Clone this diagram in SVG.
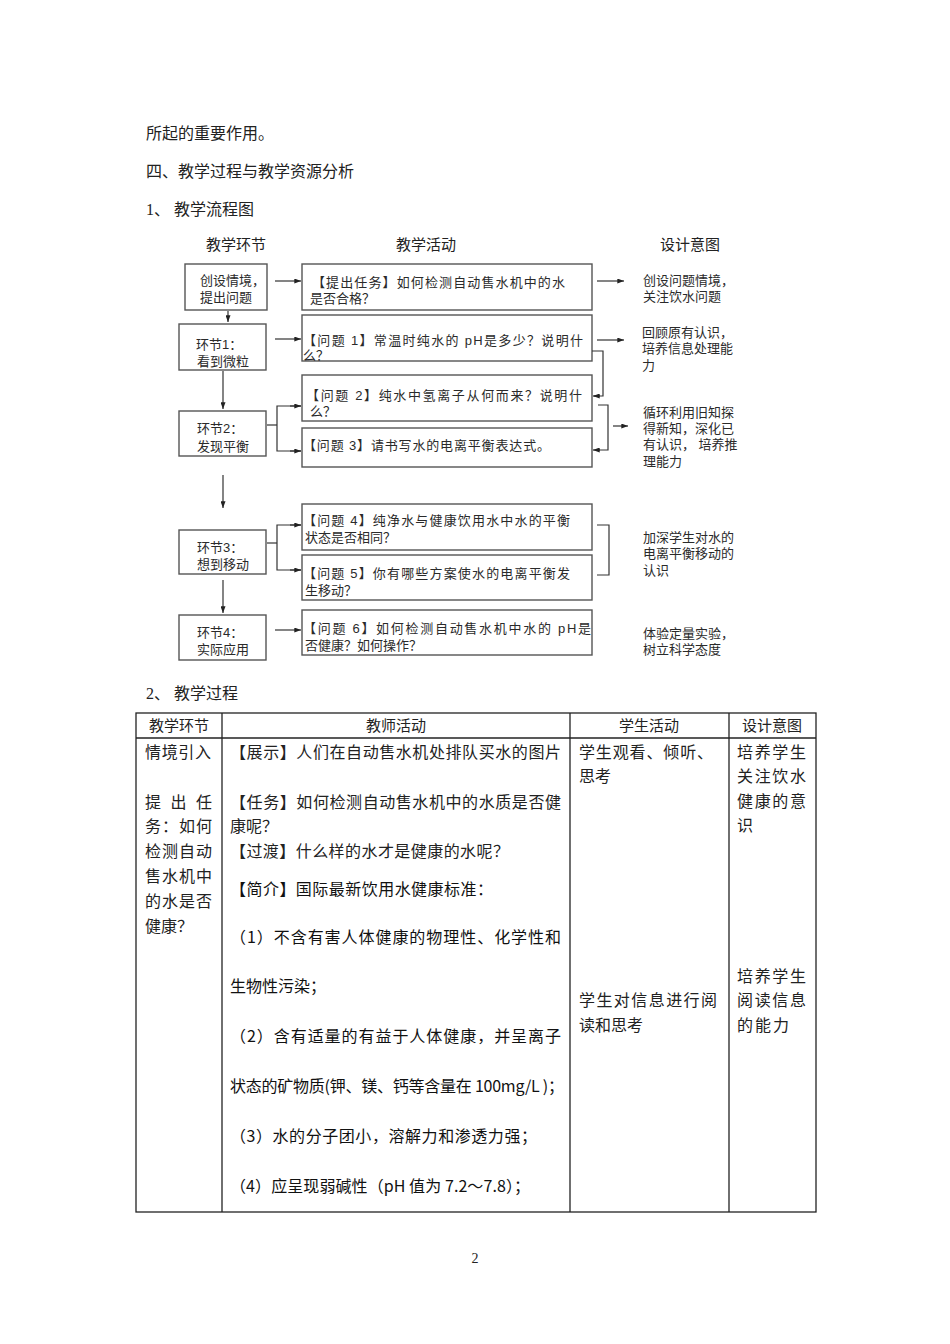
<svg xmlns="http://www.w3.org/2000/svg" width="950" height="1344" viewBox="0 0 950 1344">
<style>
text{font-family:"Liberation Serif","Noto Sans CJK SC",serif;fill:#222}
.b{font-size:16px}
.h{font-size:15px}
.f{font-family:"Liberation Sans","Noto Sans CJK SC",sans-serif;font-size:13px;fill:#2a2a2a}
.s{font-family:"Noto Sans CJK SC",sans-serif;font-size:16px;fill:#111}
.box{fill:#fff;stroke:#555;stroke-width:1.4}
.ln{fill:none;stroke:#333;stroke-width:1.2}
.tb{fill:none;stroke:#222;stroke-width:1.3}
</style>
<defs>
<marker id="ah" viewBox="0 0 8 6" refX="8" refY="3" markerWidth="7" markerHeight="5" orient="auto" markerUnits="userSpaceOnUse">
<path d="M0,0 L8,3 L0,6 z" fill="#222"/>
</marker>
</defs>
<rect width="950" height="1344" fill="#fff"/>

<text class="b" x="146" y="139">所起的重要作用。</text>
<text class="b" x="146" y="177">四、教学过程与教学资源分析</text>
<text class="b" x="146" y="215">1、 教学流程图</text>

<text class="h" x="236" y="250" text-anchor="middle">教学环节</text>
<text class="h" x="426" y="250" text-anchor="middle">教学活动</text>
<text class="h" x="690" y="250" text-anchor="middle">设计意图</text>

<g id="n0"><rect class="box" x="185" y="264" width="82" height="46"/>
<text class="f" x="200" y="285">创设情境，</text><text class="f" x="200" y="302">提出问题</text></g>
<g id="n1"><rect class="box" x="179" y="324" width="87" height="46"/>
<text class="f" x="196" y="349">环节1：</text><text class="f" x="197" y="366">看到微粒</text></g>
<g id="n2"><rect class="box" x="179" y="411" width="87" height="45"/>
<text class="f" x="197" y="433">环节2：</text><text class="f" x="197" y="451">发现平衡</text></g>
<g id="n3"><rect class="box" x="179" y="530" width="87" height="44"/>
<text class="f" x="197" y="552">环节3：</text><text class="f" x="197" y="569">想到移动</text></g>
<g id="n4"><rect class="box" x="179" y="615" width="87" height="45"/>
<text class="f" x="197" y="637">环节4：</text><text class="f" x="197" y="654">实际应用</text></g>

<g id="t0"><rect class="box" x="302" y="264" width="290" height="46"/>
<text class="f" x="312" y="287" textLength="253">【提出任务】如何检测自动售水机中的水</text><text class="f" x="310" y="303">是否合格？</text></g>
<g id="q1"><rect class="box" x="302" y="315" width="290" height="46"/>
<text class="f" x="303" y="345" textLength="280">【问题 1】常温时纯水的  pH是多少？说明什</text><text class="f" x="303" y="360">么？</text></g>
<g id="q2"><rect class="box" x="302" y="375" width="290" height="46"/>
<text class="f" x="306" y="400" textLength="276">【问题 2】纯水中氢离子从何而来？说明什</text><text class="f" x="310" y="416">么？</text></g>
<g id="q3"><rect class="box" x="302" y="428" width="290" height="39"/>
<text class="f" x="303" y="450" textLength="247">【问题 3】请书写水的电离平衡表达式。</text></g>
<g id="q4"><rect class="box" x="302" y="504" width="290" height="46"/>
<text class="f" x="303" y="525" textLength="267">【问题 4】纯净水与健康饮用水中水的平衡</text><text class="f" x="305" y="542">状态是否相同？</text></g>
<g id="q5"><rect class="box" x="302" y="555" width="290" height="45"/>
<text class="f" x="303" y="578" textLength="267">【问题 5】你有哪些方案使水的电离平衡发</text><text class="f" x="305" y="595">生移动？</text></g>
<g id="q6"><rect class="box" x="302" y="610" width="290" height="45"/>
<text class="f" x="303" y="633" textLength="288">【问题 6】如何检测自动售水机中水的   pH是</text><text class="f" x="305" y="650">否健康？如何操作？</text></g>

<g id="d0"><text class="f" x="643" y="285">创设问题情境，</text><text class="f" x="643" y="301">关注饮水问题</text></g>
<g id="d1"><text class="f" x="642" y="337">回顾原有认识，</text><text class="f" x="642" y="353">培养信息处理能</text><text class="f" x="642" y="370">力</text></g>
<g id="d2"><text class="f" x="643" y="417">循环利用旧知探</text><text class="f" x="643" y="433">得新知，深化已</text><text class="f" x="643" y="449">有认识，  培养推</text><text class="f" x="643" y="466">理能力</text></g>
<g id="d3"><text class="f" x="643" y="542">加深学生对水的</text><text class="f" x="643" y="558">电离平衡移动的</text><text class="f" x="643" y="575">认识</text></g>
<g id="d4"><text class="f" x="643" y="638">体验定量实验，</text><text class="f" x="643" y="654">树立科学态度</text></g>

<g id="connectors">
<line class="ln" x1="228" y1="311" x2="228" y2="322" marker-end="url(#ah)"/>
<line class="ln" x1="223" y1="371" x2="223" y2="409" marker-end="url(#ah)"/>
<line class="ln" x1="223" y1="475" x2="223" y2="508" marker-end="url(#ah)"/>
<line class="ln" x1="223" y1="580" x2="223" y2="613" marker-end="url(#ah)"/>
<line class="ln" x1="275" y1="281" x2="301" y2="281" marker-end="url(#ah)"/>
<line class="ln" x1="275" y1="339" x2="301" y2="339" marker-end="url(#ah)"/>
<line class="ln" x1="275" y1="630" x2="301" y2="630" marker-end="url(#ah)"/>
<line class="ln" x1="267" y1="425" x2="277" y2="425"/>
<polyline class="ln" points="301,406 277,406 277,451 301,451"/>
<line class="ln" x1="290" y1="406" x2="301" y2="406" marker-end="url(#ah)"/>
<line class="ln" x1="290" y1="451" x2="301" y2="451" marker-end="url(#ah)"/>
<line class="ln" x1="267" y1="543" x2="277" y2="543"/>
<polyline class="ln" points="301,525 277,525 277,570 301,570"/>
<line class="ln" x1="290" y1="525" x2="301" y2="525" marker-end="url(#ah)"/>
<line class="ln" x1="290" y1="570" x2="301" y2="570" marker-end="url(#ah)"/>
<line class="ln" x1="597" y1="281" x2="624" y2="281" marker-end="url(#ah)"/>
<line class="ln" x1="597" y1="340" x2="624" y2="340" marker-end="url(#ah)"/>
<polyline class="ln" points="592,351 603,351 603,396 594,396"/>
<line class="ln" x1="600" y1="396" x2="593" y2="396" marker-end="url(#ah)"/>
<polyline class="ln" points="598,405 608,405 608,450 598,450"/>
<line class="ln" x1="600" y1="450" x2="593" y2="450" marker-end="url(#ah)"/>
<line class="ln" x1="613" y1="426" x2="628" y2="426" marker-end="url(#ah)"/>
<polyline class="ln" points="597,525 609,525 609,575 597,575"/>
</g>

<text class="b" x="146" y="699">2、 教学过程</text>

<g id="table">
<rect class="tb" x="136" y="713" width="680" height="499"/>
<line class="tb" x1="136" y1="738" x2="816" y2="738"/>
<line class="tb" x1="222" y1="713" x2="222" y2="1212"/>
<line class="tb" x1="570" y1="713" x2="570" y2="1212"/>
<line class="tb" x1="729" y1="713" x2="729" y2="1212"/>
<text class="h" x="179" y="731" text-anchor="middle">教学环节</text>
<text class="h" x="396" y="731" text-anchor="middle">教师活动</text>
<text class="h" x="649" y="731" text-anchor="middle">学生活动</text>
<text class="h" x="772" y="731" text-anchor="middle">设计意图</text>

<text class="b" x="145" y="758" textLength="66">情境引入</text>
<text class="b" x="145" y="808" textLength="67">提 出 任</text>
<text class="b" x="145" y="832" textLength="67">务：如何</text>
<text class="b" x="145" y="857" textLength="67">检测自动</text>
<text class="b" x="145" y="882" textLength="67">售水机中</text>
<text class="b" x="145" y="907" textLength="67">的水是否</text>
<text class="b" x="145" y="932">健康？</text>

<text class="b" x="230" y="758" textLength="331">【展示】人们在自动售水机处排队买水的图片</text>
<text class="b" x="230" y="808" textLength="331">【任务】如何检测自动售水机中的水质是否健</text>
<text class="b" x="230" y="832">康呢？</text>
<text class="b" x="230" y="857" textLength="279">【过渡】什么样的水才是健康的水呢？</text>
<text class="s" x="230" y="895" textLength="263">【简介】国际最新饮用水健康标准：</text>
<text class="s" x="230" y="943" textLength="331">（1）不含有害人体健康的物理性、化学性和</text>
<text class="s" x="230" y="992">生物性污染；</text>
<text class="s" x="230" y="1042" textLength="331">（2）含有适量的有益于人体健康，并呈离子</text>
<text class="s" x="230" y="1092" textLength="334">状态的矿物质(钾、镁、钙等含量在 100mg/L )；</text>
<text class="s" x="230" y="1142" textLength="307">（3）水的分子团小，溶解力和渗透力强；</text>
<text class="s" x="230" y="1192" textLength="300">（4）应呈现弱碱性（pH 值为 7.2～7.8）；</text>

<text class="b" x="579" y="758" textLength="134">学生观看、倾听、</text>
<text class="b" x="579" y="782">思考</text>
<text class="b" x="579" y="1006" textLength="138">学生对信息进行阅</text>
<text class="b" x="579" y="1031">读和思考</text>

<text class="b" x="737" y="758" textLength="69">培养学生</text>
<text class="b" x="737" y="782" textLength="69">关注饮水</text>
<text class="b" x="737" y="807" textLength="69">健康的意</text>
<text class="b" x="737" y="831">识</text>
<text class="b" x="737" y="982" textLength="69">培养学生</text>
<text class="b" x="737" y="1006" textLength="69">阅读信息</text>
<text class="b" x="737" y="1031" textLength="52">的能力</text>
</g>

<text x="475" y="1263" font-size="14" text-anchor="middle">2</text>
</svg>
